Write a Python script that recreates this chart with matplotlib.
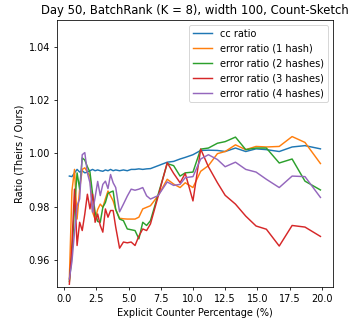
import matplotlib
matplotlib.use("Agg")
import matplotlib.pyplot as plt

x_pct = [0.4, 0.6, 0.8, 1.0, 1.2, 1.4, 1.6, 1.8, 2.0, 2.2, 2.4, 2.6, 2.8, 3.0, 3.2, 3.4,
         3.6, 3.8, 4.0, 4.3, 4.6, 4.9, 5.2, 5.5, 5.8, 6.1, 6.4, 6.7, 7.3, 8.0, 8.5, 9.0,
         9.4, 10.0, 10.6, 11.2, 11.9, 12.5, 13.3, 14.1, 14.9, 15.7, 16.7, 17.7, 18.7, 19.9]

cc_ratio = [0.9915, 0.9913, 0.9927, 0.9940, 0.9930, 0.9935, 0.9927, 0.9930, 0.9935, 0.9940,
            0.9935, 0.9938, 0.9935, 0.9933, 0.9938, 0.9935, 0.9940, 0.9935, 0.9938, 0.9935,
            0.9938, 0.9935, 0.9940, 0.9940, 0.9942, 0.9940, 0.9942, 0.9943, 0.9954, 0.9967,
            0.9970, 0.9979, 0.9985, 0.9995, 1.0011, 1.0012, 1.0011, 1.0007, 1.0020, 1.0007,
            1.0017, 1.0014, 1.0007, 1.0024, 1.0029, 1.0017]

err_1 = [0.9530, 0.9859, 0.9940, 0.9754, 0.9866, 0.9940, 0.9946, 0.9930, 0.9915, 0.9780,
         0.9754, 0.9790, 0.9810, 0.9798, 0.9830, 0.9859, 0.9841, 0.9822, 0.9790, 0.9757,
         0.9755, 0.9754, 0.9754, 0.9754, 0.9761, 0.9792, 0.9798, 0.9804, 0.9842, 0.9903,
         0.9885, 0.9872, 0.9890, 0.9872, 0.9933, 0.9954, 0.9999, 1.0007, 1.0032, 1.0014,
         1.0026, 1.0024, 1.0026, 1.0063, 1.0041, 0.9962]

err_2 = [0.9520, 0.9620, 0.9800, 0.9927, 0.9866, 0.9983, 0.9975, 0.9950, 0.9930, 0.9850,
         0.9780, 0.9745, 0.9742, 0.9798, 0.9816, 0.9850, 0.9855, 0.9859, 0.9790, 0.9754,
         0.9748, 0.9717, 0.9714, 0.9711, 0.9680, 0.9742, 0.9730, 0.9748, 0.9847, 0.9962,
         0.9954, 0.9915, 0.9927, 0.9930, 1.0016, 1.0020, 1.0038, 1.0044, 1.0061, 1.0014,
         1.0020, 1.0020, 0.9964, 0.9979, 0.9896, 0.9863]

err_3 = [0.9510, 0.9660, 0.9866, 0.9655, 0.9742, 0.9711, 0.9773, 0.9847, 0.9792, 0.9847,
         0.9742, 0.9773, 0.9730, 0.9705, 0.9792, 0.9761, 0.9786, 0.9786, 0.9724, 0.9645,
         0.9668, 0.9665, 0.9668, 0.9655, 0.9690, 0.9717, 0.9711, 0.9736, 0.9840, 0.9965,
         0.9925, 0.9890, 0.9925, 0.9822, 1.0016, 0.9950, 0.9890, 0.9843, 0.9810, 0.9765,
         0.9728, 0.9716, 0.9653, 0.9730, 0.9724, 0.9689]

err_4 = [0.9530, 0.9594, 0.9705, 0.9804, 0.9829, 0.9995, 1.0003, 0.9927, 0.9890, 0.9780,
         0.9835, 0.9895, 0.9842, 0.9884, 0.9896, 0.9868, 0.9921, 0.9890, 0.9872, 0.9781,
         0.9810, 0.9840, 0.9866, 0.9862, 0.9866, 0.9872, 0.9841, 0.9829, 0.9842, 0.9893,
         0.9880, 0.9884, 0.9909, 0.9913, 0.9979, 0.9995, 0.9977, 0.9950, 0.9967, 0.9940,
         0.9930, 0.9903, 0.9872, 0.9915, 0.9913, 0.9835]

labels = ["cc ratio", "error ratio (1 hash)", "error ratio (2 hashes)",
          "error ratio (3 hashes)", "error ratio (4 hashes)"]
colors = ["#1f77b4", "#ff7f0e", "#2ca02c", "#d62728", "#9467bd"]

DPI = 70
fig = plt.figure(figsize=(355 / DPI, 326 / DPI), dpi=DPI)
ax = fig.add_axes([0.160, 0.120, 0.778, 0.819])

for ys, lab, c in zip([cc_ratio, err_1, err_2, err_3, err_4], labels, colors):
    ax.plot(x_pct, ys, color=c, label=lab, linewidth=1.5)

ax.set_ylim(0.95, 1.05)
ax.set_xticks([0.0, 2.5, 5.0, 7.5, 10.0, 12.5, 15.0, 17.5, 20.0])
ax.set_yticks([0.96, 0.98, 1.00, 1.02, 1.04])
ax.set_xlabel("Explicit Counter Percentage (%)")
ax.set_ylabel("Ratio (Theirs / Ours)")
ax.set_title("Day 50, BatchRank (K = 8), width 100, Count-Sketch")
ax.legend(loc="upper right")

fig.savefig("out.png", dpi=DPI)
